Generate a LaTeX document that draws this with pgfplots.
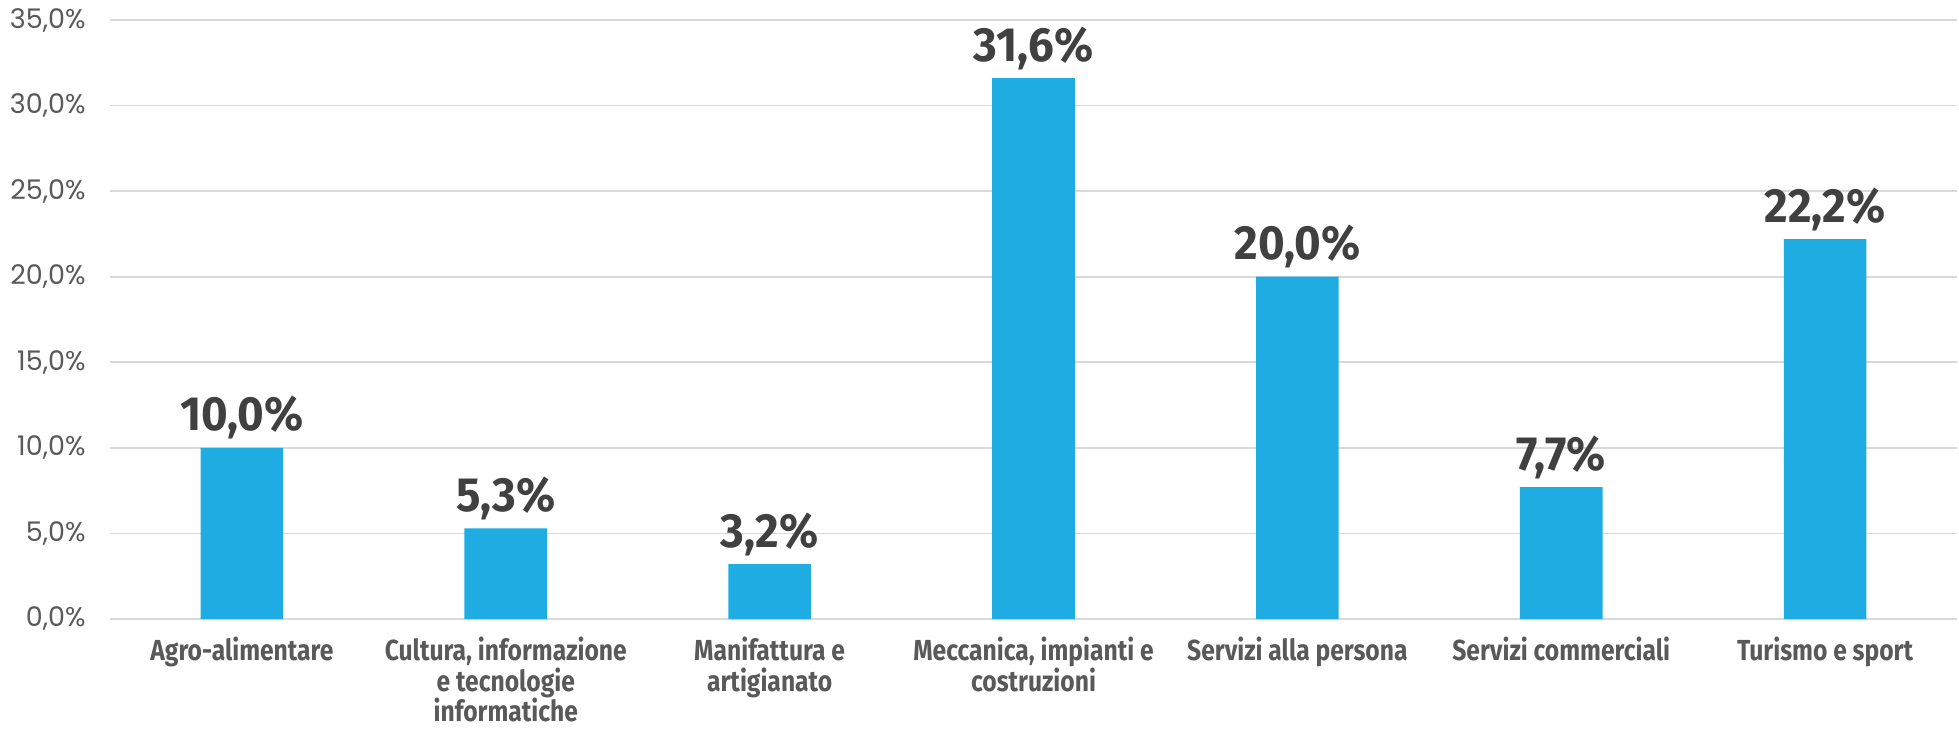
\documentclass[border=0pt]{standalone}
\usepackage{fontspec}
\usepackage{pgfplots}
\pgfplotsset{compat=1.18}
\setmainfont{Poppins}
\newfontfamily\catfont[FakeStretch=0.85]{Fira Sans}
\newfontfamily\valfont[FakeStretch=0.95]{Fira Sans}
\definecolor{barblue}{HTML}{1EACE2}
\definecolor{tickgray}{HTML}{595959}
\definecolor{valgray}{HTML}{404040}
\definecolor{gridgray}{HTML}{D9D9D9}
\begin{document}
\begin{tikzpicture}
\begin{axis}[
  name=ax,
  scale only axis,
  width=923.5pt, height=299.5pt,
  xmin=-0.5, xmax=6.5,
  ymin=0, ymax=35,
  ytick={0,5,...,35},
  xtick={0,1,2,3,4,5,6},
  xticklabels={
    Agro-alimentare,
    {Cultura, informazione\\e tecnologie\\informatiche},
    {Manifattura e\\artigianato},
    {Meccanica, impianti e\\costruzioni},
    Servizi alla persona,
    Servizi commerciali,
    Turismo e sport},
  major tick length=0pt,
  axis line style={draw=none},
  ymajorgrids,
  grid style={gridgray, line width=0.8pt},
  /pgf/number format/assume math mode=true,
  yticklabel={\pgfmathprintnumber[fixed,fixed zerofill,precision=1,use comma]{\tick}\%},
  yticklabel style={font=\fontsize{13.5}{15}\selectfont, text=tickgray, anchor=east, inner sep=0pt, xshift=-12pt},
  xticklabel style={font=\catfont\bfseries\fontsize{14.5}{15.2}\selectfont, text=tickgray, align=center, anchor=north, inner sep=0pt, yshift=-9pt},
  ybar,
  bar width=41.3pt,
  bar shift=0pt,
  nodes near coords={\pgfmathprintnumber[fixed,fixed zerofill,precision=1,use comma]{\pgfplotspointmeta}\%},
  every node near coord/.append style={font=\valfont\bfseries\fontsize{24}{26}\selectfont, text=valgray, anchor=base, yshift=8.5pt},
]
\addplot[fill=barblue, draw=none] coordinates {
  (0,10.0) (1,5.3) (2,3.2) (3,31.6) (4,20.0) (5,7.7) (6,22.2)
};
\end{axis}
\pgfresetboundingbox
\path[use as bounding box] ([shift={(-55pt,-55pt)}]ax.south west) rectangle ([shift={(1pt,10pt)}]ax.north east);
\end{tikzpicture}
\end{document}
